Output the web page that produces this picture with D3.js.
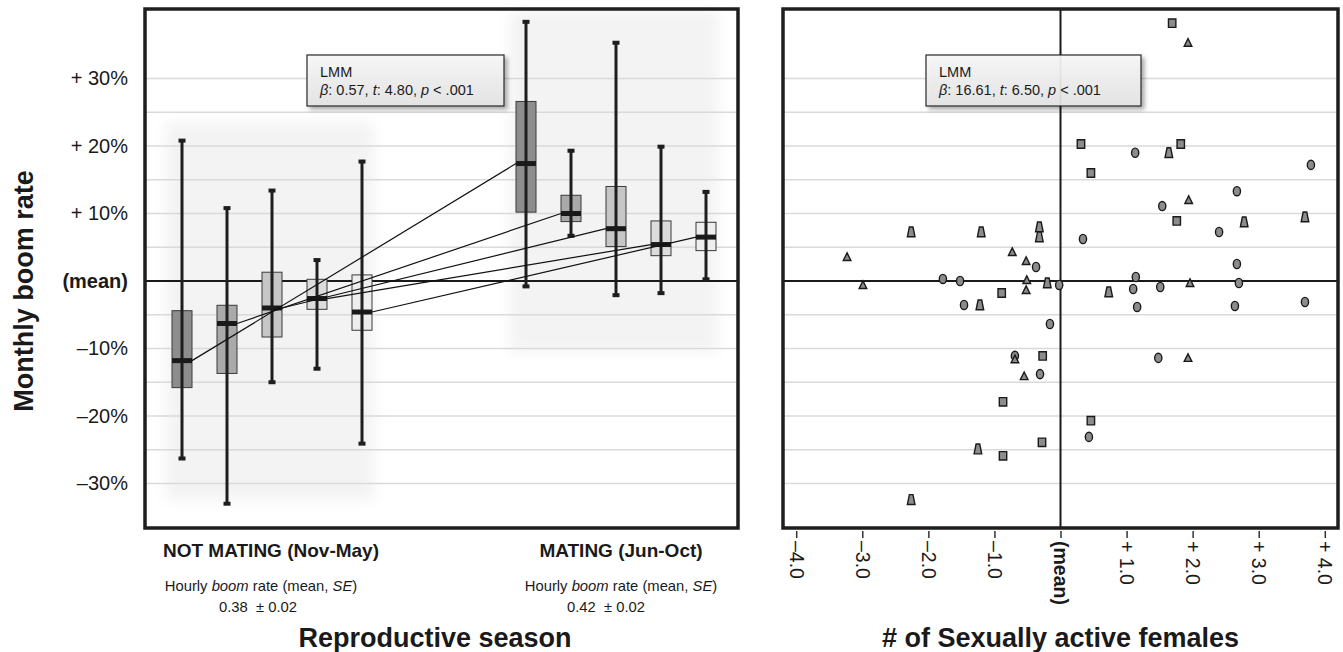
<!DOCTYPE html>
<html>
<head>
<meta charset="utf-8">
<script src="https://cdn.jsdelivr.net/npm/d3@7"></script>
<style>
  body { margin: 0; background: #fff; }
  text { font-family: "Liberation Sans", Arial, sans-serif; fill: #1a1a1a; }
</style>
</head>
<body>
<svg id="chart" width="1343" height="652"></svg>
<script>
// ---- left panel: monthly boom rate (% from mean) by season ----
var seasons = ["NOT MATING", "MATING"];
var boxSeason = ["NOT MATING", "NOT MATING", "NOT MATING", "NOT MATING", "NOT MATING",
                 "MATING", "MATING", "MATING", "MATING", "MATING"];
var boxSlot = [0, 1, 2, 3, 4, 0, 1, 2, 3, 4];
var whiskerHigh = [20.8, 10.8, 13.4, 3.1, 17.7, 38.4, 19.3, 35.3, 19.9, 13.2];
var q3 = [-4.4, -3.6, 1.3, 0.25, 0.9, 26.6, 12.7, 14.0, 8.9, 8.7];
var median = [-11.8, -6.3, -4.0, -2.6, -4.6, 17.4, 10.0, 7.75, 5.4, 6.5];
var q1 = [-15.8, -13.7, -8.3, -4.2, -7.3, 10.2, 8.8, 5.1, 3.75, 4.5];
var whiskerLow = [-26.3, -33.0, -15.0, -13.0, -24.1, -0.8, 6.7, -2.1, -1.8, 0.25];
// each not-mating box joined to its mating counterpart
var pairFrom = [0, 1, 2, 3, 4];
var pairTo = [5, 6, 7, 8, 9];
var shadeTop = [23.5, 40.0];
var shadeBottom = [-32.5, -10.5];

var yTicks = [-30, -20, -10, 0, 10, 20, 30];
var gridVals = [-30, -25, -20, -15, -10, -5, 5, 10, 15, 20, 25, 30];

// ---- right panel: scatter vs sexually active females ----
var ptX = [-3.23, -2.99, -2.26, -1.78, -1.52, -1.46, -1.22, -1.20, -0.89, -0.73,
           -0.52, -0.37, -0.32, -0.32, -0.51, -0.52, -0.20, -0.02, -0.16, -0.27,
           -0.69, -0.69, -0.55, -0.31, -0.87, -1.25, -0.87, -0.28, 0.46, 0.43,
           -2.26, 1.69, 1.93, 0.31, 1.13, 1.64, 1.82, 3.79, 0.46, 2.67,
           1.94, 1.54, 1.76, 2.78, 3.70, 2.40, 0.34, 2.67, 1.14, 1.10,
           0.73, 1.51, 1.96, 2.70, 1.16, 2.64, 3.70, 1.48, 1.93];
var ptY = [3.56, -0.59, 7.26, 0.30, 0.0, -3.56, -3.56, 7.26, -1.78, 4.30,
           2.96, 2.07, 8.0, 6.52, 0.15, -1.33, -0.30, -0.59, -6.37, -11.1,
           -11.1, -11.6, -14.1, -13.8, -17.9, -24.9, -25.9, -23.9, -20.7, -23.1,
           -32.4, 38.2, 35.3, 20.3, 19.0, 19.0, 20.3, 17.2, 16.0, 13.3,
           12.0, 11.1, 8.9, 8.74, 9.48, 7.26, 6.22, 2.52, 0.59, -1.19,
           -1.63, -0.89, -0.30, -0.30, -3.85, -3.70, -3.11, -11.4, -11.4];
var ptShape = ["tri", "tri", "trap", "circ", "circ", "circ", "trap", "trap", "sq", "tri",
               "tri", "circ", "trap", "trap", "tri", "tri", "trap", "circ", "circ", "sq",
               "circ", "tri", "tri", "circ", "sq", "trap", "sq", "sq", "sq", "circ",
               "trap", "sq", "tri", "sq", "circ", "trap", "sq", "circ", "sq", "circ",
               "tri", "circ", "sq", "trap", "trap", "circ", "circ", "circ", "circ", "circ",
               "trap", "circ", "tri", "circ", "circ", "circ", "circ", "circ", "tri"];
var xTicks = [-4, -3, -2, -1, 0, 1, 2, 3, 4];

var svg = d3.select("#chart");
var defs = svg.append("defs");
defs.append("filter").attr("id", "soft")
  .attr("x", "-20%").attr("y", "-20%").attr("width", "140%").attr("height", "140%")
  .append("feGaussianBlur").attr("stdDeviation", 7);
defs.append("filter").attr("id", "shadow")
  .attr("x", "-10%").attr("y", "-20%").attr("width", "130%").attr("height", "160%")
  .append("feDropShadow").attr("dx", 3).attr("dy", 3).attr("stdDeviation", 2)
  .attr("flood-color", "#000").attr("flood-opacity", 0.35);
var grad = defs.append("linearGradient").attr("id", "lmmfill")
  .attr("x1", 0).attr("y1", 0).attr("x2", 0).attr("y2", 1);
grad.append("stop").attr("offset", "0%").attr("stop-color", "#f8f8f8");
grad.append("stop").attr("offset", "100%").attr("stop-color", "#e4e4e4");

var left = {x0: 145, x1: 738}, right = {x0: 783, x1: 1338};
var plotTop = 9, plotBottom = 528;

var y = d3.scaleLinear().domain([-36.6, 40.3]).range([plotBottom, plotTop]);
var xSeason = d3.scalePoint().domain(seasons).range([272, 616]);
var xSlot = d3.scalePoint().domain(d3.range(5)).range([-90, 90]);
var boxW = 20;
var boxColor = d3.scaleOrdinal().domain(d3.range(5))
  .range(["#8d8d8d", "#a9a9a9", "#c6c6c6", "#dcdcdc", "#eeeeee"]);
var cx = function(i) { return xSeason(boxSeason[i]) + xSlot(boxSlot[i]); };

var xs = d3.scaleLinear().domain([-4.2, 4.2]).range([right.x0, right.x1]);

// ================= LEFT PANEL =================
var gl = svg.append("g");

// soft grey season backdrops
gl.selectAll(".shade").data(seasons).enter().append("rect")
  .attr("x", d => xSeason(d) - 106)
  .attr("width", 208)
  .attr("y", (d, i) => y(shadeTop[i]))
  .attr("height", (d, i) => y(shadeBottom[i]) - y(shadeTop[i]))
  .attr("fill", "#f3f3f3")
  .attr("filter", "url(#soft)");

gl.selectAll(".grid").data(gridVals).enter().append("line")
  .attr("x1", left.x0).attr("x2", left.x1)
  .attr("y1", d => y(d)).attr("y2", d => y(d))
  .attr("stroke", "#dadada").attr("stroke-width", 1.5);

gl.append("line")
  .attr("x1", left.x0).attr("x2", left.x1)
  .attr("y1", y(0)).attr("y2", y(0))
  .attr("stroke", "#1a1a1a").attr("stroke-width", 2.2);

var idx = d3.range(whiskerHigh.length);
var boxes = gl.selectAll(".box").data(idx).enter().append("g");

boxes.append("rect")
  .attr("x", i => cx(i) - boxW / 2)
  .attr("width", boxW)
  .attr("y", i => y(q3[i]))
  .attr("height", i => y(q1[i]) - y(q3[i]))
  .attr("fill", i => boxColor(boxSlot[i]))
  .attr("stroke", "#3a3a3a").attr("stroke-width", 1);

boxes.append("line")
  .attr("x1", i => cx(i)).attr("x2", i => cx(i))
  .attr("y1", i => y(whiskerHigh[i])).attr("y2", i => y(whiskerLow[i]))
  .attr("stroke", "#1e1e1e").attr("stroke-width", 3);

boxes.append("rect")
  .attr("x", i => cx(i) - 3.5).attr("width", 7)
  .attr("y", i => y(whiskerHigh[i]) - 2).attr("height", 4)
  .attr("fill", "#1e1e1e");
boxes.append("rect")
  .attr("x", i => cx(i) - 3.5).attr("width", 7)
  .attr("y", i => y(whiskerLow[i]) - 2).attr("height", 4)
  .attr("fill", "#1e1e1e");

boxes.append("rect")
  .attr("x", i => cx(i) - boxW / 2).attr("width", boxW)
  .attr("y", i => y(median[i]) - 2.5).attr("height", 5)
  .attr("fill", "#1a1a1a");

// median-to-median links
gl.selectAll(".link").data(pairFrom).enter().append("line")
  .attr("x1", d => cx(d) + boxW / 2)
  .attr("y1", d => y(median[d]))
  .attr("x2", (d, k) => cx(pairTo[k]) - boxW / 2)
  .attr("y2", (d, k) => y(median[pairTo[k]]))
  .attr("stroke", "#111").attr("stroke-width", 1.2);

gl.append("rect")
  .attr("x", left.x0).attr("y", plotTop)
  .attr("width", left.x1 - left.x0).attr("height", plotBottom - plotTop)
  .attr("fill", "none").attr("stroke", "#1e1e1e").attr("stroke-width", 3.5);

// y axis labels
var yAxis = d3.axisLeft(y).tickValues(yTicks).tickSize(0).tickPadding(17)
  .tickFormat(d => d === 0 ? "(mean)" : d > 0 ? "+ " + d + "%" : "\u2013" + Math.abs(d) + "%");
var ya = gl.append("g").attr("transform", "translate(" + left.x0 + ",0)").call(yAxis);
ya.select(".domain").remove();
ya.selectAll("text")
  .style("font-family", "'Liberation Sans', Arial, sans-serif")
  .style("font-size", "20px")
  .style("fill", "#1a1a1a")
  .style("font-weight", d => d === 0 ? "bold" : "normal");

svg.append("text")
  .attr("transform", "translate(33,291) rotate(-90)")
  .attr("text-anchor", "middle")
  .style("font-size", "27px").style("font-weight", "bold")
  .text("Monthly boom rate");

// season labels
var seasonTitle = ["NOT MATING (Nov-May)", "MATING (Jun-Oct)"];
var seasonMean = ["0.38  \u00b1 0.02", "0.42  \u00b1 0.02"];
var titleShift = [-1, 5], subShift = [-11, 5], valShift = [-14, -10];
seasons.forEach(function(s, i) {
  svg.append("text")
    .attr("x", xSeason(s) + titleShift[i]).attr("y", 557)
    .attr("text-anchor", "middle")
    .style("font-size", "19px").style("font-weight", "bold")
    .text(seasonTitle[i]);
  var t = svg.append("text")
    .attr("x", xSeason(s) + subShift[i]).attr("y", 591)
    .attr("text-anchor", "middle")
    .style("font-size", "14.8px");
  t.append("tspan").text("Hourly ");
  t.append("tspan").style("font-style", "italic").text("boom");
  t.append("tspan").text(" rate (mean, ");
  t.append("tspan").style("font-style", "italic").text("SE");
  t.append("tspan").text(")");
  svg.append("text")
    .attr("x", xSeason(s) + valShift[i]).attr("y", 612)
    .attr("text-anchor", "middle")
    .style("font-size", "14.8px").style("white-space", "pre")
    .text(seasonMean[i]);
});

svg.append("text")
  .attr("x", 435).attr("y", 647)
  .attr("text-anchor", "middle")
  .style("font-size", "27px").style("font-weight", "bold")
  .text("Reproductive season");

// ================= RIGHT PANEL =================
var gr = svg.append("g");

gr.selectAll(".grid").data(gridVals).enter().append("line")
  .attr("x1", right.x0).attr("x2", right.x1)
  .attr("y1", d => y(d)).attr("y2", d => y(d))
  .attr("stroke", "#dadada").attr("stroke-width", 1.5);

gr.append("line")
  .attr("x1", right.x0).attr("x2", right.x1)
  .attr("y1", y(0)).attr("y2", y(0))
  .attr("stroke", "#1a1a1a").attr("stroke-width", 2);
gr.append("line")
  .attr("x1", xs(0)).attr("x2", xs(0))
  .attr("y1", plotTop).attr("y2", plotBottom)
  .attr("stroke", "#1a1a1a").attr("stroke-width", 2);

var shapePath = {
  sq: "M-3.7,-4.2h7.4v8.4h-7.4z",
  circ: "M-3.6,0a3.6,4.6 0 1,0 7.2,0a3.6,4.6 0 1,0 -7.2,0z",
  tri: "M0,-4.1L3.8,3.5L-3.8,3.5z",
  trap: "M-1.8,-5L1.8,-5L3.8,4.8L-3.8,4.8z"
};

gr.selectAll(".pt").data(d3.range(ptX.length)).enter().append("path")
  .attr("transform", i => "translate(" + xs(ptX[i]) + "," + y(ptY[i]) + ")")
  .attr("d", i => shapePath[ptShape[i]])
  .attr("fill", "#8c8c8c")
  .attr("stroke", "#1a1a1a").attr("stroke-width", 1.4);

gr.append("rect")
  .attr("x", right.x0).attr("y", plotTop)
  .attr("width", right.x1 - right.x0).attr("height", plotBottom - plotTop)
  .attr("fill", "none").attr("stroke", "#1e1e1e").attr("stroke-width", 3.5);

var xAxis = d3.axisBottom(xs).tickValues(xTicks).tickSize(7)
  .tickFormat(d => d === 0 ? "(mean)" : d > 0 ? "+ " + d.toFixed(1) : "\u2013" + Math.abs(d).toFixed(1));
var xa = gr.append("g").attr("transform", "translate(0," + (plotBottom + 3) + ")").call(xAxis);
xa.select(".domain").remove();
xa.selectAll(".tick line").attr("stroke", "#333").attr("stroke-width", 1.5);
xa.selectAll("text")
  .attr("transform", "rotate(90)")
  .attr("x", 10).attr("y", 0).attr("dy", "0.35em")
  .style("text-anchor", "start")
  .style("font-family", "'Liberation Sans', Arial, sans-serif")
  .style("font-size", "19.5px")
  .style("fill", "#1a1a1a")
  .style("font-weight", d => d === 0 ? "bold" : "normal");

svg.append("text")
  .attr("x", xs(0)).attr("y", 647)
  .attr("text-anchor", "middle")
  .style("font-size", "27px").style("font-weight", "bold")
  .text("# of Sexually active females");

// ================= LMM notes =================
var lmmBeta = ["0.57", "16.61"], lmmT = ["4.80", "6.50"];
var lmmX = [307, 926], lmmW = [197, 215];
lmmX.forEach(function(bx, i) {
  var g = svg.append("g").attr("transform", "translate(" + bx + ",55)");
  g.append("rect")
    .attr("width", lmmW[i]).attr("height", 51)
    .attr("fill", "url(#lmmfill)").attr("fill-opacity", 0.92)
    .attr("stroke", "#2a2a2a").attr("stroke-width", 1.2)
    .attr("filter", "url(#shadow)");
  g.append("text").attr("x", 13).attr("y", 22)
    .style("font-size", "14.5px").text("LMM");
  var t = g.append("text").attr("x", 13).attr("y", 40).style("font-size", "14.5px");
  t.append("tspan").style("font-style", "italic").text("\u03b2");
  t.append("tspan").text(": " + lmmBeta[i] + ", ");
  t.append("tspan").style("font-style", "italic").text("t");
  t.append("tspan").text(": " + lmmT[i] + ", ");
  t.append("tspan").style("font-style", "italic").text("p");
  t.append("tspan").text(" < .001");
});
</script>
</body>
</html>
